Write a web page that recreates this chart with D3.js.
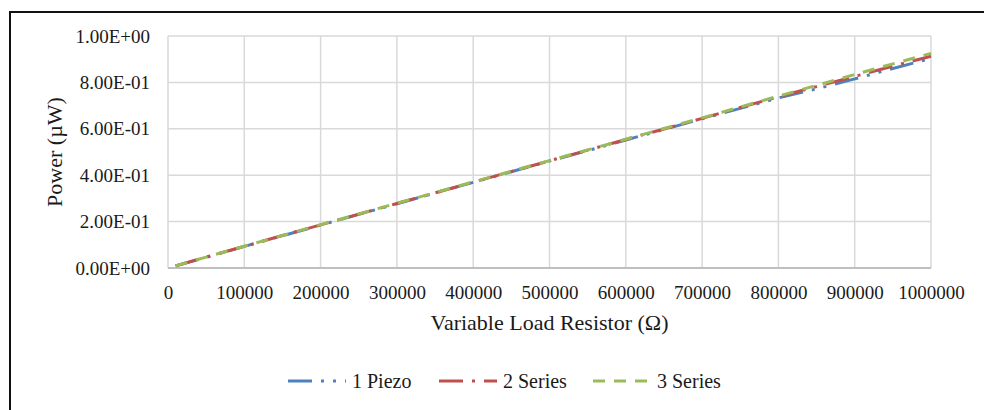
<!DOCTYPE html>
<meta charset="utf-8">
<style>
body { margin: 0; background: #fff; }
text { font-family: "Liberation Serif", "Times New Roman", serif; fill: #1a1a1a; }
.grid line { stroke: #d9d9d9; stroke-width: 1.5; }
</style>
<body>
<script src="https://d3js.org/d3.v7.min.js"></script>
<script>

// data
var resistance = [10000, 50000, 100000, 150000, 200000, 250000, 300000, 350000, 400000, 450000, 500000,
                  550000, 600000, 650000, 700000, 750000, 800000, 850000, 900000, 950000, 1000000];
var piezo1  = [0.009, 0.046, 0.093, 0.139, 0.185, 0.231, 0.277, 0.323, 0.369, 0.415, 0.461,
               0.506, 0.552, 0.597, 0.643, 0.688, 0.733, 0.772, 0.815, 0.860, 0.903];
var series2 = [0.009, 0.047, 0.093, 0.140, 0.186, 0.232, 0.278, 0.324, 0.370, 0.416, 0.462,
               0.508, 0.554, 0.599, 0.645, 0.692, 0.738, 0.782, 0.826, 0.870, 0.913];
var series3 = [0.0093, 0.047, 0.094, 0.140, 0.187, 0.233, 0.279, 0.325, 0.371, 0.417, 0.463,
               0.509, 0.555, 0.601, 0.647, 0.694, 0.741, 0.787, 0.834, 0.880, 0.925];
var seriesNames = ["1 Piezo", "2 Series", "3 Series"];
var xTicks = [0, 100000, 200000, 300000, 400000, 500000, 600000, 700000, 800000, 900000, 1000000];
var yTicks = [0, 0.2, 0.4, 0.6, 0.8, 1.0];

var W = 984, H = 410;
var margin = {top: 36, left: 168, right: 53, bottom: 142};
var width = W - margin.left - margin.right,
    height = H - margin.top - margin.bottom;

var lw = 3;
var styles = [
  {color: "#4F81BD", dash: [8*lw, 3*lw, 1*lw, 3*lw, 1*lw, 3*lw].join(",")},
  {color: "#C0504D", dash: [8*lw, 3*lw, 1*lw, 3*lw].join(",")},
  {color: "#9BBB59", dash: [4*lw, 3*lw].join(",")}
];

var svg = d3.select("body").append("svg")
    .attr("width", W).attr("height", H);

// outer chart frame (only top and left are visible)
svg.append("path")
    .attr("d", "M10," + H + "V12H" + W)
    .attr("fill", "none").attr("stroke", "#111").attr("stroke-width", 2);

var g = svg.append("g")
    .attr("transform", "translate(" + margin.left + "," + margin.top + ")");

var x = d3.scaleLinear().domain([0, 1000000]).range([0, width]);
var y = d3.scaleLinear().domain([0, 1]).range([height, 0]);

// gridlines
g.append("g").attr("class", "grid")
  .selectAll("line").data(xTicks).enter().append("line")
    .attr("x1", d => x(d)).attr("x2", d => x(d))
    .attr("y1", 0).attr("y2", height);
g.append("g").attr("class", "grid")
  .selectAll("line").data(yTicks).enter().append("line")
    .attr("x1", 0).attr("x2", width)
    .attr("y1", d => y(d)).attr("y2", d => y(d));

// bottom axis line
g.append("line")
    .attr("x1", 0).attr("x2", width).attr("y1", height).attr("y2", height)
    .attr("stroke", "#bfbfbf").attr("stroke-width", 2);

// axes
var xAxis = g.append("g")
    .attr("transform", "translate(0," + height + ")")
    .call(d3.axisBottom(x).tickValues(xTicks).tickSize(0).tickPadding(18).tickFormat(d3.format("d")));
xAxis.select(".domain").remove();
xAxis.selectAll("text").style("font-size", "19px").style("font-family", "Liberation Serif");

var yAxis = g.append("g")
    .call(d3.axisLeft(y).tickValues(yTicks).tickSize(0).tickPadding(18)
      .tickFormat(d => d.toExponential(2).toUpperCase().replace(/E([+-])(\d)$/, "E$10$2")));
yAxis.select(".domain").remove();
yAxis.selectAll("text").style("font-size", "19px").style("font-family", "Liberation Serif");

// axis titles
svg.append("text")
    .attr("x", margin.left + width / 2).attr("y", 330)
    .attr("text-anchor", "middle").style("font-size", "22px")
    .text("Variable Load Resistor (\u03A9)");
svg.append("text")
    .attr("transform", "translate(62," + (margin.top + height / 2) + ") rotate(-90)")
    .attr("text-anchor", "middle").style("font-size", "22px")
    .text("Power (\u00B5W)");

// lines
var allSeries = [piezo1, series2, series3];
var line = d3.line()
    .x((d, i) => x(resistance[i]))
    .y(d => y(d));

allSeries.forEach(function(vals, k) {
  g.append("path")
    .datum(vals)
    .attr("fill", "none")
    .attr("stroke", styles[k].color)
    .attr("stroke-width", lw)
    .attr("stroke-dasharray", styles[k].dash)
    .attr("d", line);
});

// legend
var legendX = [288, 439, 593];
var legend = svg.append("g");
seriesNames.forEach(function(name, k) {
  legend.append("line")
    .attr("x1", legendX[k]).attr("x2", legendX[k] + 58)
    .attr("y1", 381).attr("y2", 381)
    .attr("stroke", styles[k].color)
    .attr("stroke-width", lw)
    .attr("stroke-dasharray", styles[k].dash);
  legend.append("text")
    .attr("x", legendX[k] + 64).attr("y", 388)
    .style("font-size", "20px")
    .text(name);
});

</script>
</body>
